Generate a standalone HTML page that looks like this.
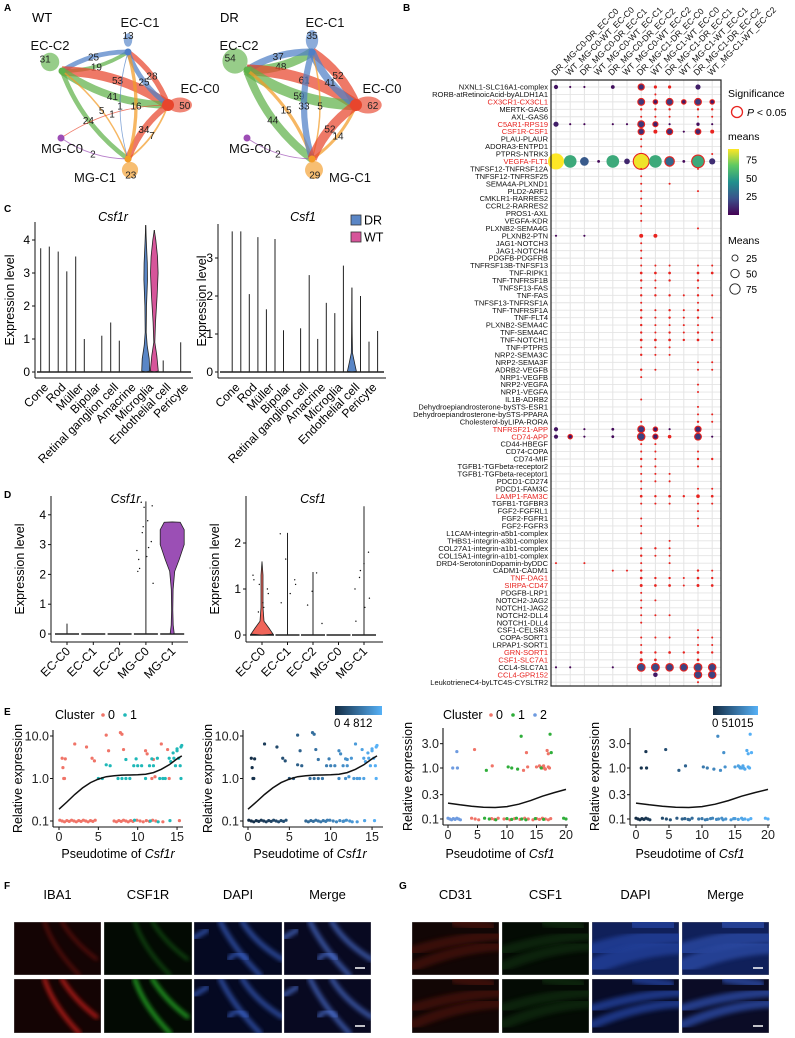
<!DOCTYPE html>
<html><head><meta charset="utf-8">
<style>
html,body{margin:0;padding:0;background:#fff;}
svg{display:block;font-family:"Liberation Sans",Arial,sans-serif;}
</style></head>
<body>
<svg id="fig" width="795" height="1038" viewBox="0 0 795 1038" xmlns="http://www.w3.org/2000/svg">
<defs>
<filter id="blur2"><feGaussianBlur stdDeviation="2"/></filter>
<filter id="blur4"><feGaussianBlur stdDeviation="4"/></filter>
<linearGradient id="viridis" x1="0" y1="1" x2="0" y2="0">
<stop offset="0" stop-color="#440154"/><stop offset="0.25" stop-color="#3b528b"/><stop offset="0.5" stop-color="#21908d"/><stop offset="0.75" stop-color="#5dc863"/><stop offset="1" stop-color="#fde725"/>
</linearGradient>
<linearGradient id="blues" x1="0" y1="0" x2="1" y2="0"><stop offset="0" stop-color="#132b43"/><stop offset="1" stop-color="#56b1f7"/></linearGradient>
</defs>
</svg>
<script>
// ---------------- DATA ----------------
const netNames = ["EC-C0","EC-C1","EC-C2","MG-C0","MG-C1"];
const wtEdges = [["EC-C2","EC-C1",19],["EC-C1","EC-C2",25],["EC-C0","EC-C2",53],["EC-C2","EC-C0",41],["EC-C0","EC-C1",28],["EC-C1","EC-C0",25],["EC-C2","MG-C1",24],["MG-C1","EC-C2",5],["EC-C0","MG-C0",1],["MG-C1","EC-C0",7],["EC-C0","MG-C1",34],["MG-C1","EC-C1",16],["MG-C0","MG-C1",2],["EC-C1","MG-C1",1]];
const wtLoops = [["EC-C1",13],["EC-C2",31],["EC-C0",50],["MG-C1",23]];
const drEdges = [["EC-C2","EC-C1",48],["EC-C1","EC-C2",37],["EC-C0","EC-C2",61],["EC-C2","EC-C0",59],["EC-C0","EC-C1",52],["EC-C1","EC-C0",41],["EC-C2","MG-C1",44],["MG-C1","EC-C2",15],["MG-C1","EC-C1",5],["EC-C1","MG-C1",33],["MG-C1","EC-C0",14],["EC-C0","MG-C1",52],["MG-C0","MG-C1",2]];
const drLoops = [["EC-C1",35],["EC-C2",54],["EC-C0",62],["MG-C1",29]];

const bCols = ["DR_MG-C0-DR_EC-C0","WT_MG-C0-WT_EC-C0","DR_MG-C0-DR_EC-C1","WT_MG-C0-WT_EC-C1","DR_MG-C0-DR_EC-C2","WT_MG-C0-WT_EC-C2","DR_MG-C1-DR_EC-C0","WT_MG-C1-WT_EC-C0","DR_MG-C1-DR_EC-C1","WT_MG-C1-WT_EC-C1","DR_MG-C1-DR_EC-C2","WT_MG-C1-WT_EC-C2"];
const bRows = ["NXNL1-SLC16A1-complex","RORB-atRetinoicAcid-byALDH1A1","CX3CR1-CX3CL1","MERTK-GAS6","AXL-GAS6","C5AR1-RPS19","CSF1R-CSF1","PLAU-PLAUR","ADORA3-ENTPD1","PTPRS-NTRK3","VEGFA-FLT1","TNFSF12-TNFRSF12A","TNFSF12-TNFRSF25","SEMA4A-PLXND1","PLD2-ARF1","CMKLR1-RARRES2","CCRL2-RARRES2","PROS1-AXL","VEGFA-KDR","PLXNB2-SEMA4G","PLXNB2-PTN","JAG1-NOTCH3","JAG1-NOTCH4","PDGFB-PDGFRB","TNFRSF13B-TNFSF13","TNF-RIPK1","TNF-TNFRSF1B","TNFSF13-FAS","TNF-FAS","TNFSF13-TNFRSF1A","TNF-TNFRSF1A","TNF-FLT4","PLXNB2-SEMA4C","TNF-SEMA4C","TNF-NOTCH1","TNF-PTPRS","NRP2-SEMA3C","NRP2-SEMA3F","ADRB2-VEGFB","NRP1-VEGFB","NRP2-VEGFA","NRP1-VEGFA","IL1B-ADRB2","Dehydroepiandrosterone-bySTS-ESR1","Dehydroepiandrosterone-bySTS-PPARA","Cholesterol-byLIPA-RORA","TNFRSF21-APP","CD74-APP","CD44-HBEGF","CD74-COPA","CD74-MIF","TGFB1-TGFbeta-receptor2","TGFB1-TGFbeta-receptor1","PDCD1-CD274","PDCD1-FAM3C","LAMP1-FAM3C","TGFB1-TGFBR3","FGF2-FGFRL1","FGF2-FGFR1","FGF2-FGFR3","L1CAM-integrin-a5b1-complex","THBS1-integrin-a3b1-complex","COL27A1-integrin-a1b1-complex","COL15A1-integrin-a1b1-complex","DRD4-SerotoninDopamin-byDDC","CADM1-CADM1","TNF-DAG1","SIRPA-CD47","PDGFB-LRP1","NOTCH2-JAG2","NOTCH1-JAG2","NOTCH2-DLL4","NOTCH1-DLL4","CSF1-CELSR3","COPA-SORT1","LRPAP1-SORT1","GRN-SORT1","CSF1-SLC7A1","CCL4-SLC7A1","CCL4-GPR152","LeukotrieneC4-byLTC4S-CYSLTR2"];
const bRedRows = ["CX3CR1-CX3CL1","C5AR1-RPS19","CSF1R-CSF1","VEGFA-FLT1","TNFRSF21-APP","CD74-APP","LAMP1-FAM3C","TNF-DAG1","SIRPA-CD47","GRN-SORT1","CSF1-SLC7A1","CCL4-GPR152"];
const bDots = [
"1:5n 2:1n 3:1n 5:4n 7:12 8:3 9:3 11:8n","8:1","7:15 8:6 9:15 10:6 11:15 12:6","7:1.5 8:1.5 9:1.5 11:1.5 12:1.5","7:1 8:1 9:1 11:1 12:1",
"1:8n 2:1n 3:1n 5:1n 6:1n 7:15 8:8 9:1n 11:3n 12:1n","7:12 8:5 9:12 10:1n 11:10 12:5","7:1","7:1","7:1 12:1",
"1:90n 2:55n 3:25n 4:2n 5:55n 6:10n 7:88 8:55n 9:30 10:2n 11:55 12:12n","7:1 11:1","7:1","7:1 9:1","7:1 11:1","7:1","7:1","7:1","7:1","11:1",
"1:1n 3:1n 7:5 8:5","7:1","7:1","7:1","7:1 8:1 9:1 11:1 12:1","7:2 8:2 9:2 11:2 12:2","7:1.5 8:1 9:1.5 11:1.5","7:1 8:1 11:1","7:1.5 8:1.5 9:1.5 10:1 11:1.5 12:1","7:1 11:1",
"7:1.5 8:1 9:1.5 10:1 11:1.5","7:1.5 8:1 9:1.5 10:1 11:1.5 12:1","7:1.5 8:1 9:1 10:1 11:1","7:1.5 8:1 9:1.5 10:1 11:1.5 12:1","7:2 8:2 9:2 10:1.5 11:2 12:1.5","7:1 8:1 9:1","7:1.5 8:1 9:1","11:1 12:1","7:1.5 8:1 11:1 12:1","7:1",
"11:1","11:1","7:1","11:1","11:1 12:1","7:1 11:1.5 12:1","1:5n 3:1n 5:2n 7:15 8:6 9:1n 11:12","1:5n 2:6 3:1n 5:2n 7:18 8:8 9:4 11:15 12:1n","7:1 8:1","7:1 8:1 11:1",
"7:1.5 8:1 11:1.5 12:1.5","7:1 8:1 11:1","7:1 8:1 9:1","7:1 8:1 9:1","7:1 11:1 12:1","7:2 8:1.5 9:2 10:1.5 11:4 12:2","7:1 8:1 9:1 11:1 12:1","11:1","7:1 11:1","7:1 11:1",
"7:1","9:1","7:1.5 8:1.5 9:1","7:1.5 8:1 9:1","1:1 3:1 7:1 9:1","5:1 6:1 7:1.5 11:1.5 12:1","7:2 8:1.5 9:1.5 10:1 11:2 12:1.5","7:2.5 8:2 9:2 10:1 11:2.5 12:2","7:1","7:1 8:1",
"7:1","7:1 8:1 9:1","7:1","11:1","7:1 8:1 9:1 11:1 12:1","7:1 11:1 12:1","7:2 8:1.5 9:2 10:1.5 11:2 12:1.5","7:3 8:2 11:2","1:1n 2:1n 5:1n 7:20 8:20 9:18 10:18 11:20 12:18","8:6n 11:18 12:18",
"11:1"];
const bMeanTicks = [25,50,75];
const bSizeLegend = [25,50,75];

const cCats = ["Cone","Rod","Müller","Bipolar","Retinal ganglion cell","Amacrine","Microglia","Endothelial cell","Pericyte"];
const c1DR = [3.75,3.65,3.5,0,1.5,0,4.45,0.35,0.9];
const c1WT = [3.8,3.05,1.0,1.1,0.95,0,4.3,0,0];
const c2DR = [3.7,2.05,1.65,1.1,1.15,0.87,1.55,2.22,0.8];
const c2WT = [3.7,3.55,3.5,0,2.55,1.82,2.8,2.0,1.08];
const c1Ticks = [0,1,2,3,4];
const c2Ticks = [0,1,2,3];
const c1MicroDR = [[0,0],[0.03,4],[0.4,3.5],[0.8,1.5],[1.2,0.5],[2,0.8],[2.8,1.8],[3.3,1.6],[3.9,0.7],[4.45,0]];
const c1MicroWT = [[0,0],[0.03,4],[0.5,2.5],[0.9,0.5],[1.5,1.2],[2.3,2.8],[3,3.8],[3.5,3.2],[4,1.5],[4.3,0]];
const c2EndoDR = [[0,0],[0.02,4.5],[0.2,3],[0.5,0.6],[1,0.3],[2.22,0]];

const dCats = ["EC-C0","EC-C1","EC-C2","MG-C0","MG-C1"];
const d1Max = [0.35,0,0,4.45,3.75];
const d2Max = [1.6,2.22,1.37,0,2.8];
const d1Ticks = [0,1,2,3,4];
const d2Ticks = [0,1,2];
const d1MGC1 = [[0,0],[0.02,2],[0.3,1],[0.8,0.6],[1.5,0.9],[2.1,2.5],[2.5,7],[3,12],[3.5,12],[3.75,8],[3.76,0]];
const d2ECC0 = [[0,0],[0.02,11],[0.15,7],[0.3,2],[0.6,1],[1.3,1],[1.6,0]];
const d1Pts = [[3,2.8],[3,3.1],[3,2.6],[3,3.4],[3,2.1],[3,4.3],[3,3.8],[3,3.6],[3,2.5],[3,1.7],[3,2.9],[3,4.25],[3,2.2]];
const d2Pts = [[0,1.3],[0,1.0],[0,0.7],[0,0.5],[0,1.2],[0,0.9],[0,0.6],[0,1.1],[1,2.2],[1,1.2],[1,0.9],[1,1.65],[1,0.7],[1,1.1],[2,1.35],[2,0.95],[2,0.65],[2,0.25],[4,1.8],[4,1.55],[4,1.25],[4,1.0],[4,0.8],[4,0.6],[4,1.4],[4,0.3]];

const e1C0t = [0.4,0.5,0.6,0.7,0.8,2,3.5,4.2,4.5,6,6.3,7.8,8,8.2,11,11.2,11.8,12,13,13.8,14,12.2];
const e1C0v = [3,1.8,1.0,1.0,2.9,6.5,5.5,3,2.6,10.5,4.5,12,11,4.8,4.5,3.8,1.0,2.8,6.5,4.8,1.0,1.1];
const e1C1t = [5,5.5,6,6.5,7.5,8,8.5,9,9.5,10,10.5,11,11.5,12,12.8,13.2,13.5,14,14.2,14.5,15,15.5,15.2,15.4,15.5,14.8,15.6,15,14.6,8.5,9.8,11.8,12.5];
const e1C1v = [1,1,2.1,2.0,1,1,1,1,2,2,2,1,2,2,1,1,1,3,2.5,4,5,5.5,3,2,1,2,6,4.5,3,2.8,2.9,2.9,3.0];
const e1Base0 = [0.1,0.4,0.7,1,1.3,1.6,1.9,2.2,2.5,2.8,3.1,3.4,3.7,4,4.3,4.6,7,7.3,7.6,7.9,8.2,8.5,8.8,9.1,9.4,9.9,10.3,10.7,11.1,11.5,11.9,12.3,13.2,15.3];
const e1Base1 = [9.6,11.6,12.6,14.1];
const e1FitT = [0,1,2,3,4,5,6,7,8,9,10,11,12,13,14,15,15.6];
const e1FitV = [0.19,0.28,0.42,0.6,0.8,0.97,1.1,1.16,1.2,1.21,1.22,1.26,1.38,1.65,2.1,2.9,3.4];
const e1XTicks = [0,5,10,15];
const e1YTicks = [0.1,1.0,10.0];
const e3C0t = [4.5,7.5,12.8,13.3,13.5,15,15.5,16,16.3,16.5,16.8,17,17,17.2,16.2,15.7];
const e3C0v = [2.3,1.1,0.9,2.0,1.05,1.05,1.1,1.0,1.0,0.95,2.2,1.9,1.05,1.0,1.1,1.05];
const e3C1t = [6.5,10.2,10.8,11.8,12.4,17.3,17.5,15.8];
const e3C1v = [0.9,1.05,1.0,0.95,4.2,4.6,2.0,1.0];
const e3C2t = [0.8,1.6,1.5];
const e3C2v = [1,1,2.1];
const e3Base0 = [4,4.6,5.2,7.4,7.9,8.5,9.5,10.5,11.3,12.2,13,13.6,14.4,15,15.5,16,16.5,17,17.4];
const e3Base1 = [6.2,7,8.1,10,10.8,11.6,12.5,13.2,14.8,16.2,19.6,20];
const e3Base2 = [0,0.3,0.6,0.9,1.2,1.5,1.8,2.1];
const e3FitT = [0,2,4,6,8,10,12,14,16,18,20];
const e3FitV = [0.205,0.19,0.178,0.17,0.168,0.175,0.195,0.23,0.28,0.33,0.38];
const e3XTicks = [0,5,10,15,20];
const e3YTicks = [0.1,0.3,1.0,3.0];

// ---------------- HELPERS ----------------
const NS='http://www.w3.org/2000/svg';
const svg=document.getElementById('fig');
function mk(tag,attrs,parent){const e=document.createElementNS(NS,tag);for(const k in attrs)e.setAttribute(k,attrs[k]);(parent||svg).appendChild(e);return e;}
function txt(s,attrs,parent){const e=mk('text',attrs,parent);e.textContent=s;return e;}
function grp(name){const g=mk('g',{});return g;}

[["A",4,11],["B",403,11],["C",4,212],["D",4,498],["E",4,715],["F",4,889],["G",399,889]].forEach(p=>{
  const t=txt(p[0],{x:p[1],y:p[2],'font-size':10,'font-weight':'bold'});
  
  
});

// ---------------- PANEL A ----------------
const netCol={"EC-C0":"#e8452c","EC-C1":"#4f7fc6","EC-C2":"#5fb24a","MG-C0":"#9d4db5","MG-C1":"#f39b27"};
function drawNet(name,pos,edges,loops,title,labels){
  const g=grp(name);
  const t=txt(title,{x:title==="WT"?32:220,y:22,'font-size':13},g);
  
  
  loops.forEach(l=>{
    const p=pos[l[0]];const d=l[2];
    const w=2+l[1]*0.16;
    const e=mk('ellipse',{cx:p[0]+d[0],cy:p[1]+d[1],rx:Math.abs(d[0])>0?w*0.9+3:w*0.55+2,ry:Math.abs(d[1])>0?w*0.9+3:w*0.55+2,fill:netCol[l[0]],opacity:0.65},g);
    
    
    const lt=txt(l[1],{x:p[0]+d[0]*1.4,y:p[1]+d[1]*1.4+4,'font-size':10,'text-anchor':'middle',fill:'#222'},g);
    
    
  });
  edges.forEach(ed=>{
    const a=pos[ed[0]],b=pos[ed[1]];
    const dx=b[0]-a[0],dy=b[1]-a[1];
    const cx=(a[0]+b[0])/2-dy*0.15, cy=(a[1]+b[1])/2+dx*0.15;
    const w=0.6+ed[2]*0.17;
    const path=mk('path',{d:`M${a[0]},${a[1]} Q${cx},${cy} ${b[0]},${b[1]}`,fill:'none',stroke:netCol[ed[0]],'stroke-width':w,opacity:0.72},g);
    
    
    const mx=0.25*a[0]+0.5*cx+0.25*b[0], my=0.25*a[1]+0.5*cy+0.25*b[1];
    const lt=txt(ed[2],{x:mx,y:my+4,'font-size':10,'text-anchor':'middle',fill:'#222'},g);
    
    
  });
  netNames.forEach(n=>{
    const p=pos[n];
    const c=mk('circle',{cx:p[0],cy:p[1],r:n==="EC-C0"?6:3.5,fill:netCol[n]},g);
    
    
    const L=labels[n];
    const lt=txt(n,{x:L[0],y:L[1],'font-size':13,'text-anchor':'middle',fill:'#111'},g);
    
    
  });
}
const wtPos={"EC-C1":[128,52],"EC-C2":[62,71],"EC-C0":[168,105],"MG-C0":[61,138],"MG-C1":[128,159]};
const drPos={"EC-C1":[312,52],"EC-C2":[247,70],"EC-C0":[356,105],"MG-C0":[247,138],"MG-C1":[312,159]};
const loopOff={"EC-C1":[0,-12],"EC-C2":[-12,-9],"EC-C0":[12,0],"MG-C1":[2,11]};
drawNet('network-wt',wtPos,wtEdges,wtLoops.map(l=>[l[0],l[1],loopOff[l[0]]]),"WT",
  {"EC-C1":[140,27],"EC-C2":[50,50],"EC-C0":[200,93],"MG-C0":[62,153],"MG-C1":[95,182]});
drawNet('network-dr',drPos,drEdges,drLoops.map(l=>[l[0],l[1],loopOff[l[0]]]),"DR",
  {"EC-C1":[325,27],"EC-C2":[239,50],"EC-C0":[382,93],"MG-C0":[250,153],"MG-C1":[350,182]});

// ---------------- PANEL B ----------------
(function(){
  const g=grp('dotplot-b');
  const x0=551,x1=721,y0=80,y1=686;
  const colX=c=>556+c*14.2;
  const rowY=r=>87+r*7.44;
  const rad=m=>0.82*Math.sqrt(m)+0.25;
  const vir=[[0,[68,1,84]],[22,[59,82,139]],[45,[33,144,141]],[67,[93,200,99]],[90,[253,231,37]]];
  const colr=m=>{m=Math.max(0,Math.min(90,m));for(let i=1;i<vir.length;i++){if(m<=vir[i][0]){const f=(m-vir[i-1][0])/(vir[i][0]-vir[i-1][0]);const a=vir[i-1][1],b=vir[i][1];return `rgb(${a.map((v,j)=>Math.round(v+(b[j]-v)*f)).join(',')})`;}}return 'rgb(253,231,37)';};
  const bg=mk('rect',{x:x0,y:y0,width:x1-x0,height:y1-y0,fill:'#fff'},g);
  
  
  bCols.forEach((c,i)=>{
    const l=mk('line',{x1:colX(i),x2:colX(i),y1:y0,y2:y1,stroke:'#e4e4e4','stroke-width':1},g);
    
    
    const t=txt(c,{x:0,y:0,'font-size':8.6,transform:`translate(${colX(i)-1},76) rotate(-45)`,fill:'#111'},g);
    
    
  });
  bRows.forEach((r,i)=>{
    const l=mk('line',{x1:x0,x2:x1,y1:rowY(i),y2:rowY(i),stroke:'#e4e4e4','stroke-width':0.9},g);
    
    
    const t=txt(r,{x:548,y:rowY(i)+2.6,'font-size':7.5,'text-anchor':'end',fill:bRedRows.includes(r)?'#e8231f':'#111'},g);
    
    
  });
  bDots.forEach((s,ri)=>{
    s.split(' ').forEach(tok=>{
      if(!tok)return;
      const ns=tok.endsWith('n');const [c,m]=tok.replace('n','').split(':').map(Number);
      const r=rad(m);
      const tiny=r<2.1;
      let fill=colr(m);
      if(!ns && tiny) fill='#e8231f';
      const d=mk('circle',{cx:colX(c-1),cy:rowY(ri),r:tiny&&!ns?r*0.95:r,fill:fill,stroke:(ns||tiny)?'none':'#e8231f','stroke-width':(ns||tiny)?0:1.1},g);
      
      
    });
  });
  const fr=mk('rect',{x:x0,y:y0,width:x1-x0,height:y1-y0,fill:'none',stroke:'#222','stroke-width':1.2},g);
  
  
  const s1=txt('Significance',{x:728,y:97,'font-size':10.5},g);
  
  
  const sc=mk('circle',{cx:737,cy:112,r:5.5,fill:'none',stroke:'#e8231f','stroke-width':1.3},g);
  
  
  const st=txt('',{x:747,y:116,'font-size':10.5},g);
  st.innerHTML='<tspan font-style="italic">P</tspan> &lt; 0.05';
  
  
  const mt=txt('means',{x:728,y:140,'font-size':10.5},g);
  
  
  const cb=mk('rect',{x:728,y:149,width:11,height:66,fill:'url(#viridis)'},g);
  
  
  const cbY=v=>215-v*(66/90);
  bMeanTicks.forEach(v=>{
    const t=txt(v,{x:746,y:cbY(v)+3.5,'font-size':10},g);
    
    
  });
  const mt2=txt('Means',{x:728,y:244,'font-size':10.5},g);
  
  
  bSizeLegend.forEach((v,i)=>{
    const c=mk('circle',{cx:735,cy:258+i*15.5,r:rad(v)*0.7,fill:'none',stroke:'#222','stroke-width':0.9},g);
    
    
    const t=txt(v,{x:746,y:262+i*15.5,'font-size':10},g);
    
    
  });
})();

// ---------------- VIOLIN HELPERS ----------------
function axisY(g,x,yTop,yBot,ticks,yf,title,titleX){
  const a=mk('line',{x1:x,x2:x,y1:yTop,y2:yBot,stroke:'#111','stroke-width':1},g);
  
  
  ticks.forEach(v=>{
    const tk=mk('line',{x1:x-3,x2:x,y1:yf(v),y2:yf(v),stroke:'#111'},g);
    
    
    const t=txt(v,{x:x-5,y:yf(v)+4,'font-size':12,'text-anchor':'end'},g);
    
    
  });
  const tt=txt(title,{x:0,y:0,'font-size':12.5,'text-anchor':'middle',transform:`translate(${titleX},${(yTop+yBot)/2}) rotate(-90)`},g);
  
  
}
function violin(g,cx,prof,yf,fill,name){
  let pts=prof.map(p=>`${cx+p[1]},${yf(p[0])}`).concat(prof.slice().reverse().map(p=>`${cx-p[1]},${yf(p[0])}`));
  const v=mk('polygon',{points:pts.join(' '),fill:fill,stroke:'#222','stroke-width':0.8},g);
  
  
}
function vline(g,x,yf,v){
  if(v<=0)return;
  const l=mk('line',{x1:x,x2:x,y1:yf(0),y2:yf(v),stroke:'#222','stroke-width':1},g);
  
  
}
function catLabels(g,xs,cats,y){
  cats.forEach((c,i)=>{
    const t=txt(c,{x:0,y:0,'font-size':12,'text-anchor':'end',transform:`translate(${xs(i)+4},${y}) rotate(-45)`},g);
    
    
  });
}

// ---------------- PANEL C ----------------
(function(){
  const g=grp('violin-c-csf1r');
  const yf=v=>372-v*33;
  const cx=i=>45+i*17.5;
  axisY(g,35,222,378,c1Ticks,yf,'Expression level',14);
  const xa=mk('line',{x1:35,x2:193,y1:378,y2:378,stroke:'#111'},g);
  
  
  cCats.forEach((c,i)=>{
    vline(g,cx(i)-4.3,yf,c1DR[i]);vline(g,cx(i)+4.3,yf,c1WT[i]);
  });
  violin(g,cx(6)-4.3,c1MicroDR,yf,'#5a86c6','violin-microglia-dr');
  violin(g,cx(6)+4.3,c1MicroWT,yf,'#d6559a','violin-microglia-wt');
  const bl=mk('line',{x1:37,x2:191,y1:yf(0),y2:yf(0),stroke:'#222','stroke-width':1.6},g);
  
  
  catLabels(g,cx,cCats,388);
  const t=txt('Csf1r',{x:113,y:221,'font-size':12.5,'font-style':'italic','text-anchor':'middle'},g);
  
  
})();
(function(){
  const g=grp('violin-c-csf1');
  const yf=v=>372-v*38;
  const cx=i=>236.5+i*17.1;
  axisY(g,218,224,378,c2Ticks,yf,'Expression level',206);
  const xa=mk('line',{x1:218,x2:386,y1:378,y2:378,stroke:'#111'},g);
  
  
  cCats.forEach((c,i)=>{
    vline(g,cx(i)-4.3,yf,c2DR[i]);vline(g,cx(i)+4.3,yf,c2WT[i]);
  });
  violin(g,cx(7)-4.3,c2EndoDR,yf,'#5a86c6','violin-endothelial-dr');
  const bl=mk('line',{x1:220,x2:384,y1:yf(0),y2:yf(0),stroke:'#222','stroke-width':1.6},g);
  
  
  catLabels(g,cx,cCats,388);
  const t=txt('Csf1',{x:303,y:221,'font-size':12.5,'font-style':'italic','text-anchor':'middle'},g);
  
  
  [['DR','#5a86c6',220],['WT','#d6559a',237]].forEach(l=>{
    const r=mk('rect',{x:351,y:l[2]-5,width:10,height:10,fill:l[1],stroke:'#333','stroke-width':0.8},g);
    
    
    const lt=txt(l[0],{x:364,y:l[2]+4.5,'font-size':12.5},g);
    
    
  });
})();

// ---------------- PANEL D ----------------
function drawD(name,ax,cxs,yf,ticks,maxes,prof,profIdx,profCol,pts,title,titleX,titleY){
  const g=grp(name);
  axisY(g,ax,496,642,ticks,yf,'Expression level',ax-27);
  const xa=mk('line',{x1:ax,x2:ax+137,y1:642,y2:642,stroke:'#111'},g);
  
  
  dCats.forEach((c,i)=>{
    const tk=mk('line',{x1:cxs(i),x2:cxs(i),y1:642,y2:645,stroke:'#111'},g);
    
    
    if(i!==profIdx) vline(g,cxs(i),yf,maxes[i]);
    const b=mk('line',{x1:cxs(i)-12,x2:cxs(i)+12,y1:yf(0),y2:yf(0),stroke:'#222','stroke-width':1.4},g);
    
    
  });
  violin(g,cxs(profIdx),prof,yf,profCol,'violin-'+dCats[profIdx].toLowerCase());
  pts.forEach((p,k)=>{
    const off=((k*37)%21-10)*0.9;
    const c=mk('circle',{cx:cxs(p[0])+off,cy:yf(p[1]),r:0.7,fill:'#111'},g);
    
    
  });
  catLabels(g,cxs,dCats,652);
  const t=txt(title,{x:titleX,y:titleY,'font-size':12.5,'font-style':'italic','text-anchor':'middle'},g);
  
  
}
drawD('violin-d-csf1r',51,i=>67+i*26.3,v=>634-v*29.8,d1Ticks,d1Max,d1MGC1,4,'#9b4fb5',d1Pts,'Csf1r.',127,503);
drawD('violin-d-csf1',246,i=>262+i*25.5,v=>635-v*46,d2Ticks,d2Max,d2ECC0,0,'#f0655a',d2Pts,'Csf1',313,503);

// ---------------- PANEL E ----------------
function blueCol(t,max){const f=Math.max(0,Math.min(1,t/max));const a=[19,43,67],b=[86,177,247];return `rgb(${a.map((v,j)=>Math.round(v+(b[j]-v)*f)).join(',')})`;}
function drawE(name,ax,xr,tx,y01,dec,yTop,xAxisY,xTicks,yTicks,series,fitT,fitV,gene,titleCx){
  const g=grp(name);
  const yf=v=>y01-(Math.log10(v)+1)*dec;
  const a=mk('line',{x1:ax,x2:ax,y1:yTop,y2:xAxisY,stroke:'#111','stroke-width':1.1},g);
  
  
  const b=mk('line',{x1:ax,x2:xr,y1:xAxisY,y2:xAxisY,stroke:'#111','stroke-width':1.1},g);
  
  
  yTicks.forEach(v=>{
    const tk=mk('line',{x1:ax-3,x2:ax,y1:yf(v),y2:yf(v),stroke:'#111'},g);
    
    
    const t=txt(v.toFixed(1),{x:ax-4,y:yf(v)+4.5,'font-size':12.5,'text-anchor':'end',fill:'#222'},g);
    
    
  });
  xTicks.forEach(v=>{
    const tk=mk('line',{x1:tx(v),x2:tx(v),y1:xAxisY,y2:xAxisY+3,stroke:'#111'},g);
    
    
    const t=txt(v,{x:tx(v),y:xAxisY+14,'font-size':12.5,'text-anchor':'middle',fill:'#222'},g);
    
    
  });
  series.forEach(s=>{
    s.t.forEach((t,i)=>{
      const v=s.v?s.v[i]:0.1;
      const c=mk('circle',{cx:tx(t),cy:yf(v)+(s.v?0:((i*7)%5-2)*0.4),r:1.6,fill:s.col(t)},g);
      
      
    });
  });
  const d=fitT.map((t,i)=>(i?'L':'M')+tx(t).toFixed(1)+','+yf(fitV[i]).toFixed(1)).join(' ');
  const p=mk('path',{d:d,fill:'none',stroke:'#111','stroke-width':1.5},g);
  
  
  const yt=txt('Relative expression',{x:0,y:0,'font-size':12.5,'text-anchor':'middle',transform:`translate(${ax-31},${(yTop+xAxisY)/2}) rotate(-90)`},g);
  
  
  const xt=txt('',{x:titleCx,y:858,'font-size':12.5,'text-anchor':'middle'},g);
  xt.innerHTML='Pseudotime of <tspan font-style="italic">'+gene+'</tspan>';
  
  
  return g;
}
const red='#f07468',teal='#1fb8b8',grn='#2fae3a',lblue='#6e9be0';
drawE('pseudotime-e1',53,183,t=>59+t*7.87,821,42.5,730,827,e1XTicks,e1YTicks,
  [{t:e1Base0,col:()=>red},{t:e1Base1,col:()=>teal},{t:e1C0t,v:e1C0v,col:()=>red},{t:e1C1t,v:e1C1v,col:()=>teal}],
  e1FitT,e1FitV,'Csf1r',118);
drawE('pseudotime-e2',243,383,t=>248+t*8.27,821,42.5,730,827,e1XTicks,e1YTicks,
  [{t:e1Base0,col:t=>blueCol(t,15.6)},{t:e1Base1,col:t=>blueCol(t,15.6)},{t:e1C0t,v:e1C0v,col:t=>blueCol(t,15.6)},{t:e1C1t,v:e1C1v,col:t=>blueCol(t,15.6)}],
  e1FitT,e1FitV,'Csf1r',310);
drawE('pseudotime-e3',443,568,t=>448+t*5.9,819,51,728,825,e3XTicks,e3YTicks,
  [{t:e3Base2,col:()=>lblue},{t:e3Base0,col:()=>red},{t:e3Base1,col:()=>grn},{t:e3C0t,v:e3C0v,col:()=>red},{t:e3C1t,v:e3C1v,col:()=>grn},{t:e3C2t,v:e3C2v,col:()=>lblue}],
  e3FitT,e3FitV,'Csf1',500);
drawE('pseudotime-e4',630,770,t=>636+t*6.6,819,51,728,825,e3XTicks,e3YTicks,
  [{t:e3Base2,col:t=>blueCol(t,17.5)},{t:e3Base0,col:t=>blueCol(t,17.5)},{t:e3Base1,col:t=>blueCol(t,17.5)},{t:e3C0t,v:e3C0v,col:t=>blueCol(t,17.5)},{t:e3C1t,v:e3C1v,col:t=>blueCol(t,17.5)},{t:e3C2t,v:e3C2v,col:t=>blueCol(t,17.5)}],
  e3FitT,e3FitV,'Csf1',690);
(function(){
  const g=grp('pseudotime-legends');
  function clusterLegend(x,items){
    const t=txt('Cluster',{x:x,y:719,'font-size':12.5},g);
    
    
    let cx=x+48;
    items.forEach(it=>{
      const c=mk('circle',{cx:cx,cy:715,r:1.8,fill:it[1]},g);
      
      
      const l=txt(it[0],{x:cx+5,y:719,'font-size':12.5},g);
      
      
      cx+=22;
    });
  }
  clusterLegend(55,[['0',red],['1',teal]]);
  clusterLegend(443,[['0',red],['1',grn],['2',lblue]]);
  [[335,47,'0 4 812'],[713,45,'0 51015']].forEach(c=>{
    const r=mk('rect',{x:c[0],y:706,width:c[1],height:9,fill:'url(#blues)'},g);
    
    
    const t=txt(c[2],{x:c[0]-1,y:727,'font-size':11.5},g);
    
    
  });
})();

// ---------------- PANELS F & G ----------------
(function(){
  const g=grp('microscopy');
  const rows=[[922,53],[979,54]];
  function tile(x,w,row,base,struct,strokeCol,bright,label){
    const y=rows[row][0],h=rows[row][1];
    const cp=mk('clipPath',{id:'cp'+label+row+x},g);
    mk('rect',{x:x,y:y,width:w,height:h},cp);
    const tg=mk('g',{'clip-path':`url(#cp${label}${row}${x})`},g);
    const r=mk('rect',{x:x,y:y,width:w,height:h,fill:base,stroke:'#888','stroke-width':0.6},tg);
    
    
    struct.forEach(s=>{
      const p=mk('path',{d:s(x,y,w,h),fill:'none',stroke:strokeCol,'stroke-width':bright[0],opacity:bright[1],filter:'url(#blur2)','stroke-linecap':'round'},tg);
      
      
    });
  }
  const fStreak=[(x,y,w,h)=>`M${x+w*0.35},${y} Q${x+w*0.45},${y+h*0.5} ${x+w*0.75},${y+h}`,(x,y,w,h)=>`M${x+w*0.55},${y} Q${x+w*0.7},${y+h*0.4} ${x+w*0.95},${y+h*0.7}`];
  const fDapi=[(x,y,w,h)=>`M${x+w*0.3},${y} Q${x+w*0.45},${y+h*0.5} ${x+w*0.75},${y+h}`,(x,y,w,h)=>`M${x+w*0.55},${y} Q${x+w*0.7},${y+h*0.4} ${x+w},${y+h*0.7}`,(x,y,w,h)=>`M${x+w*0.4},${y+h*0.7} q${w*0.1},-${h*0.2} ${w*0.2},0`,(x,y,w,h)=>`M${x},${y+h*0.3} L${x+w*0.15},${y+h*0.15}`];
  const gBand=[(x,y,w,h)=>`M${x},${y+h*0.55} Q${x+w*0.5},${y+h*0.3} ${x+w},${y+h*0.25}`,(x,y,w,h)=>`M${x},${y+h*0.85} Q${x+w*0.5},${y+h*0.5} ${x+w},${y+h*0.45}`,(x,y,w,h)=>`M${x+w*0.5},${y} L${x+w*0.9},${y+h*0.1}`];
  const fx=[[14,87],[104,88],[194,88],[284,87]];
  const gx=[[412,87],[502,87],[592,87],[682,87]];
  const fLab=['IBA1','CSF1R','DAPI','Merge'];
  const gLab=['CD31','CSF1','DAPI','Merge'];
  [0,1].forEach(row=>{
    const br=row?[4,0.8]:[2.5,0.45];
    tile(fx[0][0],fx[0][1],row,'#140404',fStreak,'#e0221a',br,'IBA1');
    tile(fx[1][0],fx[1][1],row,'#030a03',fStreak,'#2cc82c',br,'CSF1R');
    tile(fx[2][0],fx[2][1],row,'#050922',fDapi,'#3a62c8',[5,0.7],'DAPI');
    tile(fx[3][0],fx[3][1],row,'#080921',fDapi,'#4e72d4',[5,0.7],'Merge');
    tile(gx[0][0],gx[0][1],row,'#120605',gBand,'#5a140e',[10,0.55],'CD31');
    tile(gx[1][0],gx[1][1],row,'#040b04',gBand,'#153f15',[10,0.45],'CSF1');
    tile(gx[2][0],gx[2][1],row,row?'#080c28':'#10205a',gBand,'#24419a',[row?9:16,0.8],'DAPI-G');
    tile(gx[3][0],gx[3][1],row,row?'#0b0c26':'#10205a',gBand,'#2a4aa2',[row?9:16,0.8],'Merge-G');
    [[284,87],[682,87]].forEach(s=>{
      const sb=mk('line',{x1:s[0]+s[1]-16,x2:s[0]+s[1]-6,y1:rows[row][0]+rows[row][1]-7,y2:rows[row][0]+rows[row][1]-7,stroke:'#fff','stroke-width':1.5},g);
      
      
    });
  });
  fx.forEach((f,i)=>{
    const t=txt(fLab[i],{x:f[0]+f[1]/2,y:899,'font-size':13,'text-anchor':'middle'},g);
    
    
  });
  gx.forEach((f,i)=>{
    const t=txt(gLab[i],{x:f[0]+f[1]/2,y:899,'font-size':13,'text-anchor':'middle'},g);
    
    
  });
})();
</script>
</body></html>
